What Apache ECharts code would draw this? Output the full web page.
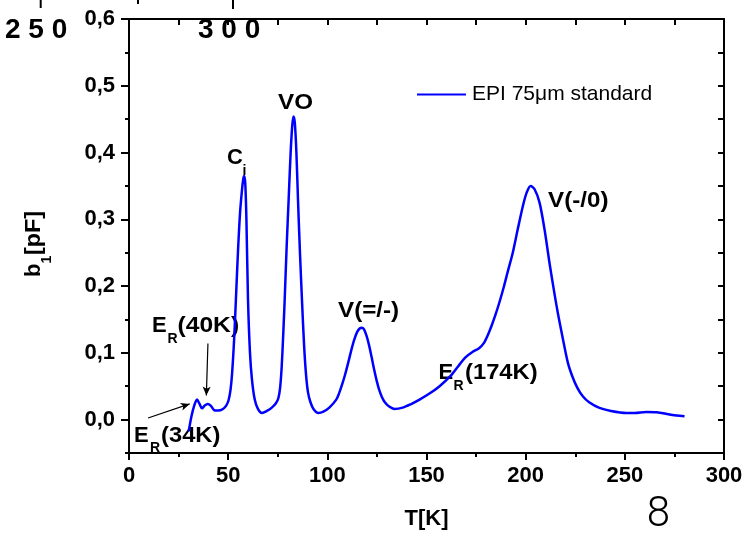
<!DOCTYPE html>
<html><head><meta charset="utf-8">
<script src="https://cdn.jsdelivr.net/npm/echarts@6.0.0/dist/echarts.min.js"></script>
<style>html,body{margin:0;padding:0;background:#fff}#c{width:756px;height:535px}</style>
</head><body><div id="c"></div>
<script>
const temperatureK = [30.1, 31.5, 33.0, 34.3, 35.5, 36.8, 38.2, 39.6, 41.2, 43.0, 45.0, 47.4, 49.0, 50.2, 51.2, 52.0, 53.0, 53.9, 55.0, 56.0, 57.0, 57.6, 58.0, 58.6, 59.2, 60.0, 61.0, 62.0, 63.4, 65.0, 67.0, 69.5, 72.0, 74.0, 75.3, 76.2, 77.0, 77.8, 78.5, 79.5, 80.5, 81.5, 82.3, 82.9, 83.6, 84.4, 85.2, 86.2, 87.2, 88.3, 89.3, 90.3, 91.5, 93.0, 95.5, 98.0, 101.0, 104.5, 106.0, 107.5, 109.0, 110.5, 112.0, 113.5, 115.0, 116.3, 117.4, 118.5, 119.7, 121.0, 122.3, 123.6, 124.9, 126.2, 127.5, 129.0, 131.0, 133.9, 138.0, 142.0, 146.5, 151.5, 156.6, 162.0, 166.0, 169.5, 173.0, 176.5, 179.0, 181.0, 183.0, 185.0, 187.0, 189.0, 191.0, 193.5, 196.0, 198.6, 200.5, 202.5, 204.5, 207.0, 209.5, 212.0, 214.0, 216.2, 218.5, 221.3, 223.5, 226.0, 228.8, 232.0, 237.2, 243.0, 250.7, 255.0, 260.8, 266.0, 272.0, 276.0, 280.1];
const b1pF = [-0.0175, 0.005, 0.022, 0.030, 0.024, 0.017, 0.021, 0.0235, 0.021, 0.014, 0.0135, 0.016, 0.021, 0.029, 0.045, 0.07, 0.12, 0.18, 0.255, 0.31, 0.345, 0.36, 0.365, 0.355, 0.30, 0.18, 0.10, 0.06, 0.03, 0.016, 0.010, 0.013, 0.018, 0.024, 0.032, 0.048, 0.08, 0.13, 0.18, 0.26, 0.33, 0.40, 0.44, 0.454, 0.445, 0.40, 0.33, 0.25, 0.18, 0.11, 0.066, 0.040, 0.026, 0.016, 0.010, 0.012, 0.018, 0.030, 0.040, 0.053, 0.068, 0.085, 0.103, 0.119, 0.131, 0.1365, 0.1375, 0.135, 0.126, 0.112, 0.094, 0.075, 0.058, 0.044, 0.034, 0.026, 0.020, 0.016, 0.018, 0.023, 0.030, 0.039, 0.050, 0.065, 0.080, 0.093, 0.101, 0.107, 0.115, 0.127, 0.142, 0.159, 0.178, 0.199, 0.222, 0.25, 0.285, 0.32, 0.34, 0.350, 0.345, 0.325, 0.285, 0.235, 0.198, 0.16, 0.125, 0.085, 0.065, 0.048, 0.035, 0.026, 0.0175, 0.013, 0.010, 0.010, 0.0115, 0.011, 0.008, 0.006, 0.005];
const seriesName = 'EPI 75\u03bcm standard';
const yMajorTicks = [0, 0.1, 0.2, 0.3, 0.4, 0.5, 0.6];
const yMajorLabels = ['0,0', '0,1', '0,2', '0,3', '0,4', '0,5', '0,6'];
const yMinorTicks = [-0.05, 0.05, 0.15, 0.25, 0.35, 0.45, 0.55];
const arrow40K = [[39.8, 0.114], [39.0, 0.036]];
const arrow34K = [[9.6, 0.0025], [30.6, 0.0235]];

const FONT = '"Liberation Sans", Arial, sans-serif';
const bold = (text, x, y, size, sx) => ({
  type: 'text', x: x, y: y, scaleX: sx || 1,
  style: { text: text, fontSize: size, fontWeight: 'bold', fontFamily: FONT, fill: '#000', textAlign: 'left', textVerticalAlign: 'middle' }
});

const chart = echarts.init(document.getElementById('c'), null, { renderer: 'canvas' });
const axisLine = { show: true, onZero: false, lineStyle: { color: '#000', width: 2 } };
chart.setOption({
  animation: false,
  backgroundColor: '#fff',
  grid: { left: 129, right: 32, top: 19, bottom: 82, containLabel: false, outerBoundsMode: 'none' },
  legend: {
    left: 417, top: 84, padding: 0, itemWidth: 49, itemHeight: 2, itemGap: 5, icon: 'rect',
    itemStyle: { color: '#0000ff' },
    textStyle: { fontSize: 21, fontFamily: FONT, color: '#000', padding: [0, 0, 0, 1] },
    data: [seriesName]
  },
  xAxis: [{
    type: 'value', min: 0, max: 300, interval: 50, position: 'bottom',
    axisLine: axisLine,
    axisTick: { show: true, length: 7, lineStyle: { color: '#000', width: 2 } },
    minorTick: { show: true, splitNumber: 2, length: 4, lineStyle: { color: '#000', width: 2 } },
    splitLine: { show: false }, minorSplitLine: { show: false },
    axisLabel: { fontSize: 22, fontWeight: 'bold', fontFamily: FONT, color: '#000', margin: 12 },
    name: 'T[K]', nameLocation: 'middle', nameGap: 55,
    nameTextStyle: { fontSize: 22, fontWeight: 'bold', fontFamily: FONT, color: '#000' }
  }, {
    type: 'value', min: 0, max: 300, interval: 25, position: 'top',
    axisLine: axisLine,
    axisTick: { show: true, inside: true, length: 6, lineStyle: { color: '#000', width: 2 } },
    axisLabel: { show: false }, splitLine: { show: false }
  }],
  yAxis: [{
    type: 'value', min: -0.05, max: 0.6, position: 'left',
    axisLine: axisLine,
    axisTick: { show: true, length: 8, customValues: yMajorTicks, lineStyle: { color: '#000', width: 2 } },
    axisLabel: {
      customValues: yMajorTicks, fontSize: 22, fontWeight: 'bold', fontFamily: FONT, color: '#000', margin: 14,
      formatter: v => yMajorLabels[Math.round(v * 10)]
    },
    splitLine: { show: false }
  }, {
    type: 'value', min: -0.05, max: 0.6, position: 'left',
    axisLine: { show: false, onZero: false },
    axisTick: { show: true, length: 4, customValues: yMinorTicks, lineStyle: { color: '#000', width: 2 } },
    axisLabel: { show: false }, splitLine: { show: false }
  }, {
    type: 'value', min: -0.05, max: 0.6, interval: 0.05, position: 'right',
    axisLine: axisLine,
    axisTick: { show: true, inside: true, length: 6, lineStyle: { color: '#000', width: 2 } },
    axisLabel: { show: false }, splitLine: { show: false }
  }],
  series: [{
    name: seriesName, type: 'line', xAxisIndex: 0, yAxisIndex: 0,
    data: temperatureK.map((t, i) => [t, b1pF[i]]),
    smooth: 0.3, showSymbol: false, symbol: 'none',
    lineStyle: { color: '#0000ff', width: 2.5 }, itemStyle: { color: '#0000ff' },
    markLine: {
      silent: true, animation: false, symbol: ['none', 'arrow'], symbolSize: [6, 9],
      label: { show: false },
      lineStyle: { color: '#000', width: 1.2, type: 'solid' },
      data: [
        [{ coord: arrow40K[0] }, { coord: arrow40K[1] }],
        [{ coord: arrow34K[0] }, { coord: arrow34K[1] }]
      ]
    }
  }],
  graphic: [
    bold('E', 152, 326, 22), bold('R', 167.5, 339, 14), bold('(40K)', 177.5, 326, 22, 1.12),
    bold('E', 134, 435.5, 22), bold('R', 150, 448, 14), bold('(34K)', 161, 435.5, 22, 1.08),
    bold('E', 438.5, 372.5, 22), bold('R', 453.5, 386.5, 14), bold('(174K)', 465, 372.5, 22, 1.08),
    bold('V(=/-)', 338, 311, 22, 1.1),
    bold('V(-/0)', 548, 201, 22, 1.1),
    bold('VO', 278, 103, 22, 1.1),
    bold('C', 227, 157.5, 22), bold('i', 242.5, 171.5, 14),
    {
      type: 'group', x: 34, y: 277, rotation: Math.PI / 2,
      children: [bold('b', 0, 0, 22), bold('1', 13.5, 13, 14), bold('[pF]', 22, 0, 22, 1.06)]
    },
    bold('2 5 0', 5, 30, 28), bold('3 0 0', 198, 30, 28),
    { type: 'line', shape: { x1: 40.7, y1: 0, x2: 40.7, y2: 8 }, style: { stroke: '#000', lineWidth: 2 } },
    { type: 'line', shape: { x1: 138, y1: 0, x2: 138, y2: 4 }, style: { stroke: '#000', lineWidth: 2 } },
    { type: 'line', shape: { x1: 233, y1: 0, x2: 233, y2: 9 }, style: { stroke: '#000', lineWidth: 2 } },
    { type: 'text', x: 658.5, y: 515, style: { text: '8', fontSize: 42, fontWeight: 300, fontFamily: 'Roboto, "Open Sans", sans-serif', fill: '#000', textAlign: 'center', textVerticalAlign: 'middle' } }
  ]
});
</script></body></html>
